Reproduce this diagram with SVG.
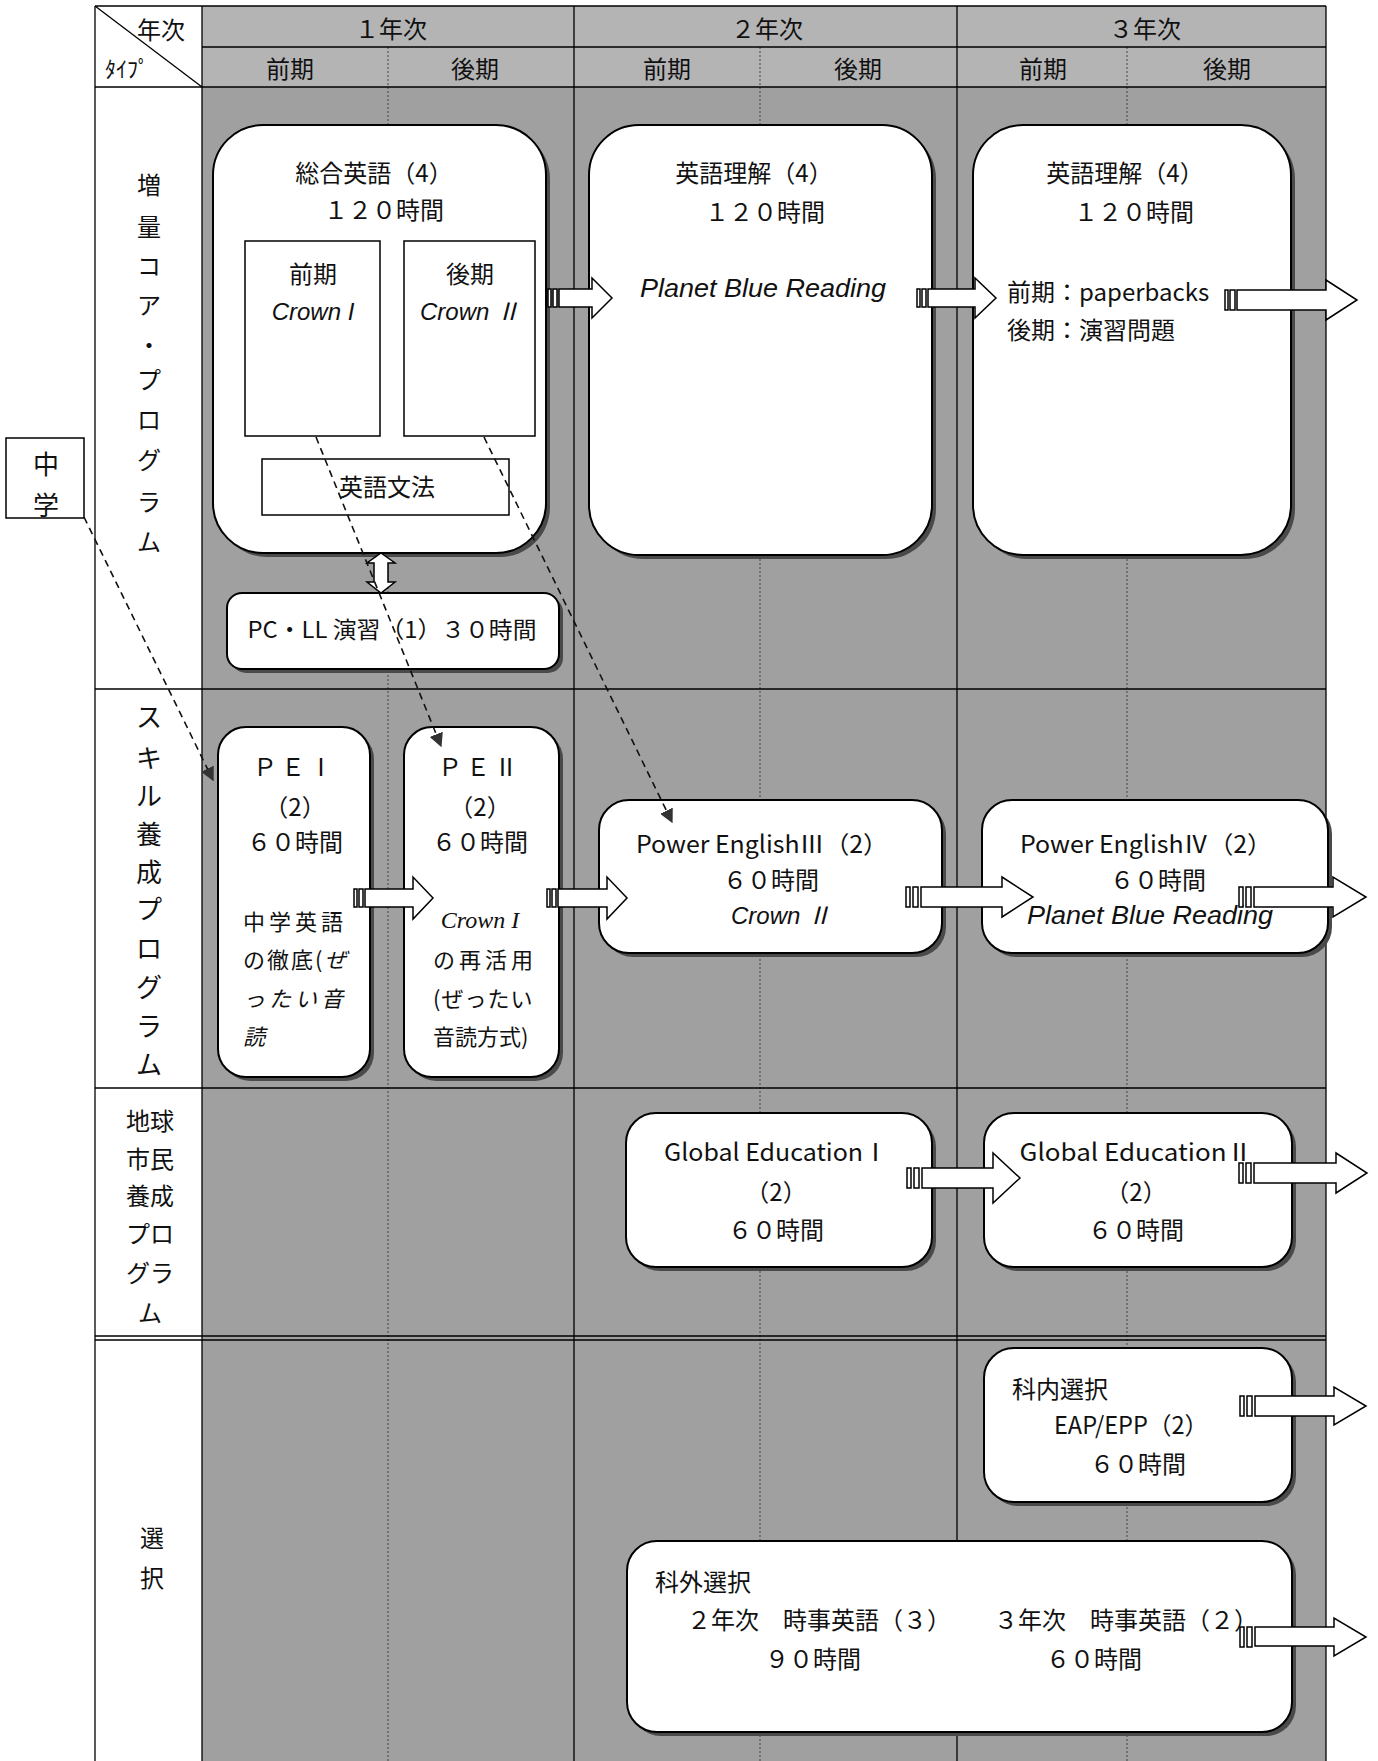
<svg xmlns="http://www.w3.org/2000/svg" width="1378" height="1761" viewBox="0 0 1378 1761">
<defs>
<style>
text{font-family:"Noto Sans CJK JP","Noto Sans",sans-serif;font-size:24px;text-anchor:middle;dominant-baseline:central;fill:#111}
.lat{font-family:"Liberation Sans","Noto Sans CJK JP",sans-serif}
.ser{font-family:"Liberation Serif","Noto Sans CJK JP",serif}
.it{font-style:italic}
.st{text-anchor:start}
.box{fill:#fff;stroke:#000;stroke-width:2}
.sh{fill:#4a4a4a}
.in{fill:#fff;stroke:#000;stroke-width:1.5}
.grid{stroke:#000;stroke-width:1.3;fill:none}
.dot{stroke:#444;stroke-width:1;stroke-dasharray:2 2;fill:none}
.dash{stroke:#111;stroke-width:1.6;stroke-dasharray:7 5;fill:none}
.ba{fill:#fff;stroke:#000;stroke-width:1.5}
</style>
<marker id="tri" viewBox="0 0 10 10" refX="9" refY="5" markerWidth="14" markerHeight="14" markerUnits="userSpaceOnUse" orient="auto">
<path d="M0,0 L10,5 L0,10 Z" fill="#333"/>
</marker>
</defs>

<rect width="1378" height="1761" fill="#fff"/>

<g id="table">
<rect x="202" y="6" width="1124" height="81" fill="#b4b4b4"/>
<rect x="202" y="87" width="1124" height="1674" fill="#a0a0a0"/>
<line class="dot" x1="388" y1="47" x2="388" y2="1761"/>
<line class="dot" x1="760" y1="47" x2="760" y2="1761"/>
<line class="dot" x1="1127" y1="47" x2="1127" y2="1761"/>
<line class="grid" x1="95" y1="6" x2="1326" y2="6"/>
<line class="grid" x1="95" y1="6" x2="95" y2="1761"/>
<line class="grid" x1="1326" y1="6" x2="1326" y2="1761"/>
<line class="grid" x1="202" y1="6" x2="202" y2="1761"/>
<line class="grid" x1="574" y1="6" x2="574" y2="1761"/>
<line class="grid" x1="957" y1="6" x2="957" y2="1761"/>
<line class="grid" x1="202" y1="47" x2="1326" y2="47"/>
<line class="grid" x1="95" y1="87" x2="1326" y2="87"/>
<line class="grid" x1="95" y1="689" x2="1326" y2="689"/>
<line class="grid" x1="95" y1="1088" x2="1326" y2="1088"/>
<line class="grid" x1="95" y1="1336" x2="1326" y2="1336"/>
<line class="grid" x1="95" y1="1340" x2="1326" y2="1340"/>
<line class="grid" x1="95" y1="6" x2="202" y2="87"/>
<text x="161" y="28">年次</text>
<text x="127" y="67" style="font-size:22px">ﾀｲﾌﾟ</text>
<text x="391" y="27">１年次</text>
<text x="767" y="27">２年次</text>
<text x="1145" y="27">３年次</text>
<text x="290" y="67">前期</text>
<text x="475" y="67">後期</text>
<text x="667" y="67">前期</text>
<text x="858" y="67">後期</text>
<text x="1043" y="67">前期</text>
<text x="1227" y="67">後期</text>
</g>

<g id="row-labels">
<text x="149" y="183">増</text>
<text x="149" y="225">量</text>
<text x="149" y="264">コ</text>
<text x="149" y="303">ア</text>
<text x="149" y="343">・</text>
<text x="149" y="378">プ</text>
<text x="149" y="418">ロ</text>
<text x="149" y="458">グ</text>
<text x="149" y="500">ラ</text>
<text x="149" y="540">ム</text>
<text x="149" y="715" style="font-size:26px">ス</text>
<text x="149" y="756" style="font-size:26px">キ</text>
<text x="149" y="794" style="font-size:26px">ル</text>
<text x="149" y="832" style="font-size:26px">養</text>
<text x="149" y="870" style="font-size:26px">成</text>
<text x="149" y="907" style="font-size:26px">プ</text>
<text x="149" y="946" style="font-size:26px">ロ</text>
<text x="149" y="985" style="font-size:26px">グ</text>
<text x="149" y="1024" style="font-size:26px">ラ</text>
<text x="149" y="1062" style="font-size:26px">ム</text>
<text x="150" y="1119">地球</text>
<text x="150" y="1157">市民</text>
<text x="150" y="1194">養成</text>
<text x="150" y="1232">プロ</text>
<text x="150" y="1271">グラ</text>
<text x="150" y="1311">ム</text>
<text x="152" y="1536">選</text>
<text x="152" y="1576">択</text>
</g>

<g id="chugaku">
<rect x="6" y="438" width="78" height="80" class="in"/>
<text x="46" y="462" style="font-size:26px">中</text>
<text x="46" y="503" style="font-size:26px">学</text>
</g>

<g id="sogo">
<rect x="217" y="129" width="333" height="428" rx="50" class="sh"/>
<rect x="213" y="125" width="333" height="428" rx="50" class="box"/>
<text x="374" y="171">総合英語（4）</text>
<text x="384" y="208">１２０時間</text>
<rect x="245" y="241" width="135" height="195" class="in"/>
<rect x="404" y="241" width="131" height="195" class="in"/>
<text x="313" y="272">前期</text>
<text x="313" y="311" class="lat it">Crown I</text>
<text x="470" y="272">後期</text>
<text x="470" y="311" class="lat it">Crown Ⅱ</text>
<rect x="262" y="459" width="247" height="56" class="in"/>
<text x="387" y="485">英語文法</text>
</g>

<g id="pcll">
<rect x="231" y="597" width="332" height="76" rx="15" class="sh"/>
<rect x="227" y="593" width="332" height="76" rx="15" class="box"/>
<text x="392" y="628" style="font-size:23px" textLength="289" lengthAdjust="spacingAndGlyphs">PC・LL 演習（1）３０時間</text>
</g>

<g id="eigo-rikai-2">
<rect x="593" y="129" width="343" height="430" rx="50" class="sh"/>
<rect x="589" y="125" width="343" height="430" rx="50" class="box"/>
<text x="754" y="171">英語理解（4）</text>
<text x="765" y="210">１２０時間</text>
<text x="763" y="288" class="lat it" style="font-size:26px" textLength="246" lengthAdjust="spacingAndGlyphs">Planet Blue Reading</text>
</g>

<g id="eigo-rikai-3">
<rect x="977" y="129" width="318" height="430" rx="50" class="sh"/>
<rect x="973" y="125" width="318" height="430" rx="50" class="box"/>
<text x="1125" y="171">英語理解（4）</text>
<text x="1134" y="210">１２０時間</text>
<text x="1007" y="290" class="st">前期：paperbacks</text>
<text x="1007" y="328" class="st">後期：演習問題</text>
</g>

<g id="pe1">
<rect x="222" y="731" width="152" height="350" rx="28" class="sh"/>
<rect x="218" y="727" width="152" height="350" rx="28" class="box"/>
<text x="295" y="765" style="letter-spacing:4px">ＰＥⅠ</text>
<text x="295" y="805">（2）</text>
<text x="295" y="840">６０時間</text>
<text x="243" y="920" class="st" style="font-size:22px;letter-spacing:4px">中学英語</text>
<text x="243" y="958" class="st" style="font-size:22px;letter-spacing:2px">の徹底(<tspan class="it">ぜ</tspan></text>
<text x="243" y="997" class="st it" style="font-size:22px;letter-spacing:4px">ったい音</text>
<text x="243" y="1035" class="st it" style="font-size:22px">読</text>
</g>

<g id="pe2">
<rect x="408" y="731" width="155" height="350" rx="28" class="sh"/>
<rect x="404" y="727" width="155" height="350" rx="28" class="box"/>
<text x="480" y="765" style="letter-spacing:4px">ＰＥⅡ</text>
<text x="480" y="805">（2）</text>
<text x="480" y="840">６０時間</text>
<text x="480" y="920" class="ser it">Crown  I</text>
<text x="433" y="958" class="st" style="font-size:22px;letter-spacing:4px">の再活用</text>
<text x="433" y="997" class="st" style="font-size:22px;letter-spacing:1px">(ぜったい</text>
<text x="433" y="1035" class="st" style="font-size:22px">音読方式)</text>
</g>

<g id="pe3">
<rect x="603" y="804" width="343" height="153" rx="30" class="sh"/>
<rect x="599" y="800" width="343" height="153" rx="30" class="box"/>
<text x="762" y="842" textLength="252" lengthAdjust="spacingAndGlyphs">Power EnglishⅢ（2）</text>
<text x="771" y="878">６０時間</text>
<text x="781" y="915" class="lat it">Crown Ⅱ</text>
</g>

<g id="pe4">
<rect x="986" y="804" width="346" height="153" rx="30" class="sh"/>
<rect x="982" y="800" width="346" height="153" rx="30" class="box"/>
<text x="1146" y="842" textLength="252" lengthAdjust="spacingAndGlyphs">Power EnglishⅣ（2）</text>
<text x="1158" y="878">６０時間</text>
<text x="1150" y="915" class="lat it" style="font-size:26px" textLength="246" lengthAdjust="spacingAndGlyphs">Planet Blue Reading</text>
</g>

<g id="ge1">
<rect x="630" y="1117" width="306" height="154" rx="30" class="sh"/>
<rect x="626" y="1113" width="306" height="154" rx="30" class="box"/>
<text x="776" y="1150" textLength="224" lengthAdjust="spacingAndGlyphs">Global EducationⅠ</text>
<text x="776" y="1190">（2）</text>
<text x="776" y="1228">６０時間</text>
</g>

<g id="ge2">
<rect x="988" y="1117" width="308" height="154" rx="30" class="sh"/>
<rect x="984" y="1113" width="308" height="154" rx="30" class="box"/>
<text x="1136" y="1150" textLength="233" lengthAdjust="spacingAndGlyphs">Global EducationⅡ</text>
<text x="1136" y="1190">（2）</text>
<text x="1136" y="1228">６０時間</text>
</g>

<g id="kanai">
<rect x="988" y="1352" width="308" height="154" rx="30" class="sh"/>
<rect x="984" y="1348" width="308" height="154" rx="30" class="box"/>
<text x="1012" y="1387" class="st">科内選択</text>
<text x="1131" y="1423" textLength="154" lengthAdjust="spacingAndGlyphs">EAP/EPP（2）</text>
<text x="1138" y="1462">６０時間</text>
</g>

<g id="kagai">
<rect x="631" y="1545" width="665" height="191" rx="30" class="sh"/>
<rect x="627" y="1541" width="665" height="191" rx="30" class="box"/>
<text x="655" y="1580" class="st">科外選択</text>
<text x="687" y="1618" class="st">２年次　時事英語（３）</text>
<text x="994" y="1618" class="st">３年次　時事英語（２）</text>
<text x="813" y="1657">９０時間</text>
<text x="1094" y="1657">６０時間</text>
</g>

<g id="connectors">
<path class="ba" d="M381,553 L395,563 L388,563 L388,582 L395,582 L381,593 L367,582 L374,582 L374,563 L367,563 Z"/>
<line class="dash" x1="84" y1="517" x2="213" y2="780" marker-end="url(#tri)"/>
<line class="dash" x1="316" y1="437" x2="441" y2="746" marker-end="url(#tri)"/>
<line class="dash" x1="484" y1="437" x2="672" y2="822" marker-end="url(#tri)"/>

<g id="a1"><rect class="ba" x="548" y="289" width="3" height="18"/><rect class="ba" x="553" y="289" width="4" height="18"/><path class="ba" d="M559,289 L592,289 L592,278 L612,298 L592,318 L592,307 L559,307 Z"/></g>
<g id="a2"><rect class="ba" x="917" y="289" width="3" height="18"/><rect class="ba" x="922" y="289" width="4" height="18"/><path class="ba" d="M928,289 L975,289 L975,278 L996,298 L975,318 L975,307 L928,307 Z"/></g>
<g id="a3"><rect class="ba" x="1225" y="290" width="3" height="20"/><rect class="ba" x="1230" y="290" width="5" height="20"/><path class="ba" d="M1237,290 L1326,290 L1326,280 L1357,300 L1326,320 L1326,310 L1237,310 Z"/></g>
<g id="a4"><rect class="ba" x="354" y="889" width="3" height="18"/><rect class="ba" x="359" y="889" width="4" height="18"/><path class="ba" d="M365,889 L413,889 L413,877 L433,898 L413,919 L413,907 L365,907 Z"/></g>
<g id="a5"><rect class="ba" x="547" y="889" width="3" height="18"/><rect class="ba" x="552" y="889" width="4" height="18"/><path class="ba" d="M558,889 L607,889 L607,877 L627,898 L607,919 L607,907 L558,907 Z"/></g>
<g id="a6"><rect class="ba" x="906" y="887" width="4" height="20"/><rect class="ba" x="913" y="887" width="5" height="20"/><path class="ba" d="M921,887 L1002,887 L1002,877 L1033,897 L1002,917 L1002,907 L921,907 Z"/></g>
<g id="a7"><rect class="ba" x="1239" y="887" width="4" height="20"/><rect class="ba" x="1246" y="887" width="5" height="20"/><path class="ba" d="M1254,887 L1333,887 L1333,877 L1366,897 L1333,917 L1333,907 L1254,907 Z"/></g>
<g id="a8"><rect class="ba" x="907" y="1168" width="4" height="20"/><rect class="ba" x="914" y="1168" width="5" height="20"/><path class="ba" d="M922,1168 L993,1168 L993,1153 L1020,1178 L993,1203 L993,1188 L922,1188 Z"/></g>
<g id="a9"><rect class="ba" x="1239" y="1163" width="4" height="20"/><rect class="ba" x="1246" y="1163" width="5" height="20"/><path class="ba" d="M1254,1163 L1336,1163 L1336,1153 L1367,1173 L1336,1193 L1336,1183 L1254,1183 Z"/></g>
<g id="a10"><rect class="ba" x="1240" y="1396" width="4" height="20"/><rect class="ba" x="1247" y="1396" width="5" height="20"/><path class="ba" d="M1255,1396 L1334,1396 L1334,1387 L1366,1406 L1334,1425 L1334,1416 L1255,1416 Z"/></g>
<g id="a11"><rect class="ba" x="1240" y="1627" width="4" height="20"/><rect class="ba" x="1247" y="1627" width="5" height="20"/><path class="ba" d="M1255,1627 L1334,1627 L1334,1618 L1366,1637 L1334,1656 L1334,1646 L1255,1646 Z"/></g>
</g>
</svg>
